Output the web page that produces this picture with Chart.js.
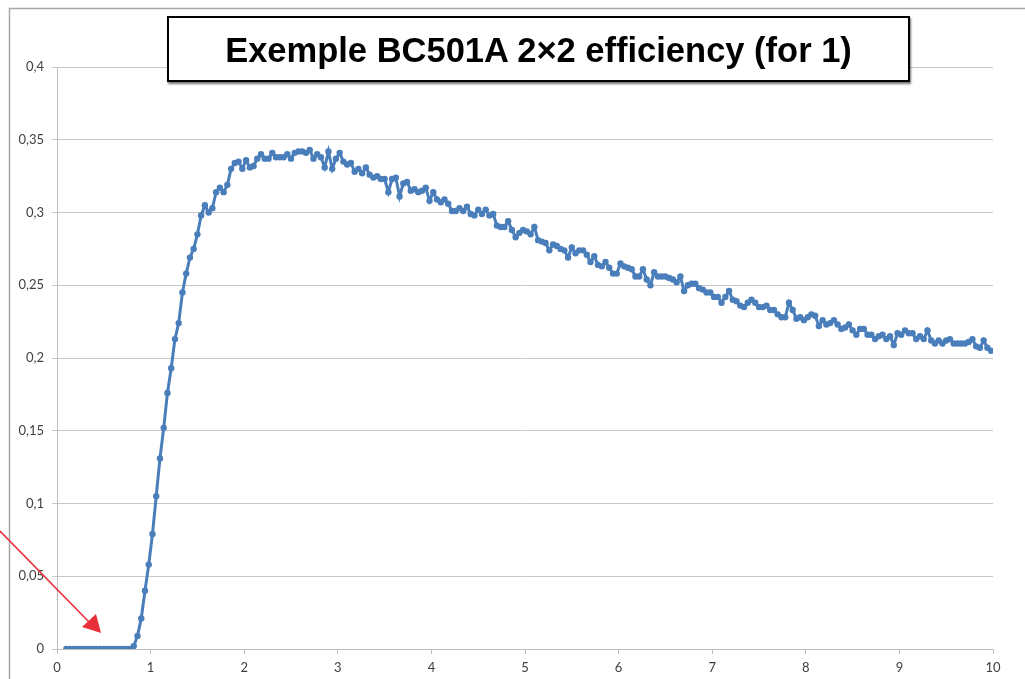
<!DOCTYPE html>
<html lang="en">
<head>
  <meta charset="UTF-8" />
  <title>Exemple BC501A 2×2 efficiency</title>
  <script src="https://cdn.jsdelivr.net/npm/chart.js"></script>
  <style>
    html, body { margin: 0; padding: 0; background: #fff; }
    #wrap { position: relative; width: 1025px; height: 679px; overflow: hidden; }
    #effChart { position: absolute; left: 0; top: 0; }
    #titleBox {
      position: absolute;
      left: 167px;
      top: 16px;
      width: 739px;
      height: 59px;
      border: 2px solid #000;
      box-shadow: 1px 2px 2px rgba(0,0,0,0.55);
      background: #fff;
      display: flex;
      align-items: center;
      justify-content: center;
      padding-top: 3px;
      box-sizing: content-box;
      font-family: "Liberation Sans", Arial, sans-serif;
      font-weight: bold;
      font-size: 34.5px;
      color: #000;
      white-space: nowrap;
    }
  </style>
</head>
<body>
  <div id="wrap">
    <canvas id="effChart" width="1025" height="679"></canvas>
    <div id="titleBox">Exemple BC501A 2×2 efficiency (for 1)</div>
  </div>

  <script>
    const energies = [
      0.10,0.14,0.18,0.22,0.26,0.30,0.34,0.38,0.42,0.46,
      0.50,0.54,0.58,0.62,0.66,0.70,0.74,0.78,0.82,0.86,
      0.90,0.94,0.98,1.02,1.06,1.10,1.14,1.18,1.22,1.26,
      1.30,1.34,1.38,1.42,1.46,1.50,1.54,1.58,1.62,1.66,
      1.70,1.74,1.78,1.82,1.86,1.90,1.94,1.98,2.02,2.06,
      2.10,2.14,2.18,2.22,2.26,2.30,2.34,2.38,2.42,2.46,
      2.50,2.54,2.58,2.62,2.66,2.70,2.74,2.78,2.82,2.86,
      2.90,2.94,2.98,3.02,3.06,3.10,3.14,3.18,3.22,3.26,
      3.30,3.34,3.38,3.42,3.46,3.50,3.54,3.58,3.62,3.66,
      3.70,3.74,3.78,3.82,3.86,3.90,3.94,3.98,4.02,4.06,
      4.10,4.14,4.18,4.22,4.26,4.30,4.34,4.38,4.42,4.46,
      4.50,4.54,4.58,4.62,4.66,4.70,4.74,4.78,4.82,4.86,
      4.90,4.94,4.98,5.02,5.06,5.10,5.14,5.18,5.22,5.26,
      5.30,5.34,5.38,5.42,5.46,5.50,5.54,5.58,5.62,5.66,
      5.70,5.74,5.78,5.82,5.86,5.90,5.94,5.98,6.02,6.06,
      6.10,6.14,6.18,6.22,6.26,6.30,6.34,6.38,6.42,6.46,
      6.50,6.54,6.58,6.62,6.66,6.70,6.74,6.78,6.82,6.86,
      6.90,6.94,6.98,7.02,7.06,7.10,7.14,7.18,7.22,7.26,
      7.30,7.34,7.38,7.42,7.46,7.50,7.54,7.58,7.62,7.66,
      7.70,7.74,7.78,7.82,7.86,7.90,7.94,7.98,8.02,8.06,
      8.10,8.14,8.18,8.22,8.26,8.30,8.34,8.38,8.42,8.46,
      8.50,8.54,8.58,8.62,8.66,8.70,8.74,8.78,8.82,8.86,
      8.90,8.94,8.98,9.02,9.06,9.10,9.14,9.18,9.22,9.26,
      9.30,9.34,9.38,9.42,9.46,9.50,9.54,9.58,9.62,9.66,
      9.70,9.74,9.78,9.82,9.86,9.90,9.94,9.98
    ];

    const efficiency = [
      0,0,0,0,0,0,0,0,0,0,
      0,0,0,0,0,0,0,0,0.002,0.009,
      0.021,0.040,0.058,0.079,0.105,0.131,0.152,0.176,0.193,0.213,
      0.224,0.245,0.258,0.269,0.275,0.285,0.298,0.305,0.300,0.303,
      0.314,0.317,0.314,0.319,0.330,0.334,0.335,0.330,0.336,0.331,
      0.332,0.337,0.340,0.337,0.337,0.341,0.338,0.338,0.338,0.340,
      0.337,0.341,0.342,0.342,0.341,0.343,0.337,0.340,0.338,0.331,
      0.342,0.330,0.337,0.341,0.335,0.333,0.334,0.328,0.330,0.327,
      0.331,0.326,0.324,0.325,0.323,0.323,0.314,0.323,0.324,0.311,
      0.320,0.321,0.315,0.316,0.314,0.315,0.317,0.308,0.314,0.309,
      0.307,0.309,0.306,0.301,0.301,0.303,0.301,0.304,0.299,0.298,
      0.302,0.299,0.302,0.298,0.299,0.291,0.290,0.290,0.294,0.288,
      0.283,0.286,0.288,0.287,0.285,0.290,0.281,0.280,0.279,0.274,
      0.278,0.277,0.275,0.274,0.269,0.276,0.272,0.274,0.274,0.271,
      0.266,0.270,0.264,0.263,0.266,0.262,0.258,0.258,0.265,0.263,
      0.262,0.261,0.256,0.256,0.261,0.254,0.250,0.259,0.256,0.256,
      0.256,0.255,0.254,0.252,0.256,0.246,0.250,0.251,0.251,0.248,
      0.247,0.245,0.245,0.242,0.242,0.238,0.242,0.246,0.240,0.239,
      0.236,0.235,0.238,0.240,0.238,0.235,0.235,0.236,0.233,0.233,
      0.230,0.228,0.228,0.238,0.233,0.227,0.228,0.226,0.228,0.230,
      0.229,0.222,0.226,0.223,0.224,0.226,0.223,0.220,0.221,0.223,
      0.219,0.216,0.220,0.220,0.216,0.216,0.213,0.215,0.216,0.213,
      0.215,0.209,0.217,0.216,0.219,0.217,0.217,0.213,0.215,0.213,
      0.219,0.212,0.210,0.212,0.210,0.212,0.213,0.210,0.210,0.210,
      0.210,0.211,0.213,0.208,0.207,0.212,0.207,0.205
    ];

    const xTicks = [0, 1, 2, 3, 4, 5, 6, 7, 8, 9, 10];
    const yTicks = [0, 0.05, 0.1, 0.15, 0.2, 0.25, 0.3, 0.35, 0.4];

    const points = energies.map((x, i) => ({ x: x, y: efficiency[i] }));

    // outer chart frame + red pointer arrow
    const decorations = {
      id: 'decorations',
      beforeDraw(chart) {
        const c = chart.ctx;
        c.save();
        c.fillStyle = '#fff';
        c.fillRect(0, 0, chart.width, chart.height);
        c.strokeStyle = '#a6a6a6';
        c.lineWidth = 1.5;
        c.strokeRect(9.5, 8.5, 1200, 900);
        c.restore();
      },
      afterDraw(chart) {
        const c = chart.ctx;
        c.save();
        c.strokeStyle = '#e8303a';
        c.fillStyle = '#e8303a';
        c.lineWidth = 1.6;
        c.beginPath();
        c.moveTo(0, 531);
        c.lineTo(90, 623);
        c.stroke();
        c.beginPath();
        c.moveTo(101, 633);
        c.lineTo(82, 627);
        c.lineTo(96, 614);
        c.closePath();
        c.fill();
        c.restore();
      }
    };

    const tickFont = { family: 'Lato, "Open Sans", sans-serif', size: 13 };

    new Chart(document.getElementById('effChart'), {
      type: 'line',
      data: {
        datasets: [{
          data: points,
          borderColor: '#4a7ebb',
          backgroundColor: '#4a7ebb',
          borderWidth: 3,
          pointRadius: 3.2,
          pointBorderWidth: 0,
          pointBackgroundColor: '#4a7ebb',
          tension: 0
        }]
      },
      options: {
        responsive: false,
        animation: false,
        events: [],
        layout: { padding: { top: 67, right: 32, left: 0, bottom: 0 } },
        plugins: {
          legend: { display: false },
          tooltip: { enabled: false },
          title: { display: false }
        },
        scales: {
          x: {
            type: 'linear',
            min: 0,
            max: 10,
            afterFit(scale) { scale.height = 30; },
            afterBuildTicks(scale) { scale.ticks = xTicks.map(v => ({ value: v })); },
            grid: {
              drawOnChartArea: false,
              drawTicks: true,
              tickLength: 5,
              color: '#bfbfbf'
            },
            border: { color: '#bfbfbf', width: 1 },
            ticks: {
              color: '#404040',
              font: tickFont,
              padding: 6,
              maxRotation: 0,
              callback: v => String(v)
            }
          },
          y: {
            min: 0,
            max: 0.4,
            afterFit(scale) { scale.width = 57; },
            afterBuildTicks(scale) { scale.ticks = yTicks.map(v => ({ value: v })); },
            grid: {
              color: '#c8c8c8',
              lineWidth: 1,
              drawTicks: true,
              tickLength: 5
            },
            border: { color: '#bfbfbf', width: 1 },
            ticks: {
              color: '#404040',
              font: tickFont,
              padding: 8,
              callback: v => String(Math.round(v * 100) / 100).replace('.', ',')
            }
          }
        }
      },
      plugins: [decorations]
    });
  </script>
</body>
</html>
